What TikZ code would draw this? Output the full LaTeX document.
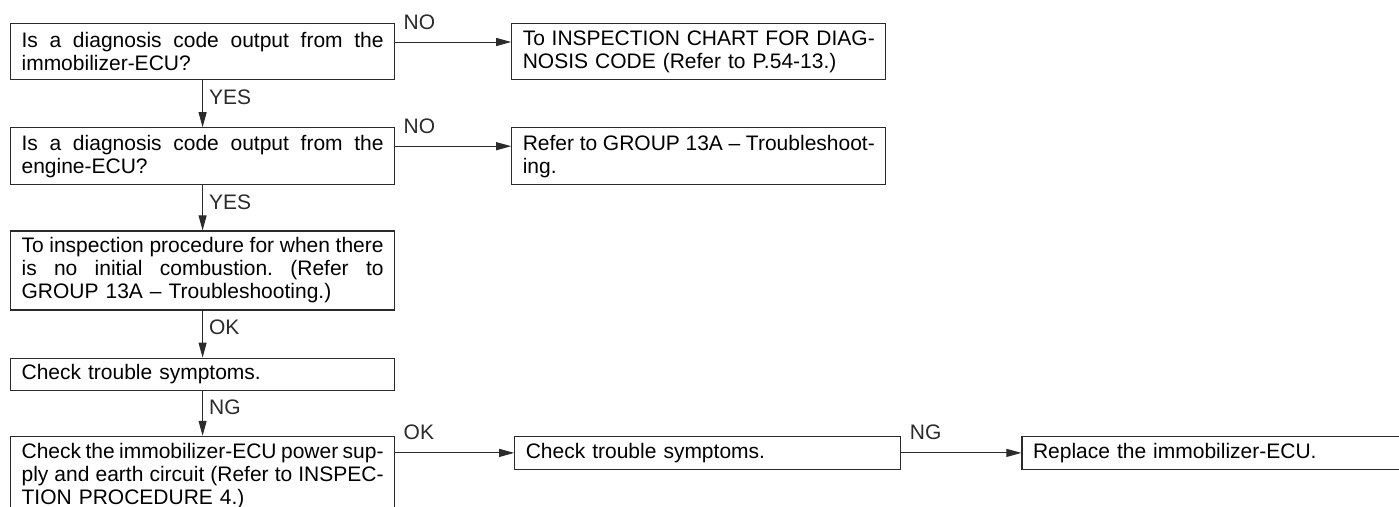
\documentclass[tikz,border=0pt]{standalone}
\usepackage{fontspec}
\setmainfont{Liberation Sans}
\usetikzlibrary{arrows.meta, positioning}
\definecolor{chartLine}{HTML}{2B2B2B}
\definecolor{chartArrow}{HTML}{2B2B2B}
\newcommand{\jline}[2][362pt]{\leavevmode{\frenchspacing
  \spaceskip=.278em plus 1fil minus .08em \hbox to #1{#2}}}
\tikzset{
  arrowC/.style={-{Triangle[length=15pt, width=8pt]}, chartArrow, line width=1pt},
  boxL/.style={rectangle, draw=chartLine, line width=1.2pt, align=left,
               text width=362pt, inner xsep=11pt, inner ysep=3pt},
  boxR/.style={boxL, text width=352pt},
  boxM/.style={boxL, text width=364pt},
  lblV/.style={pos=0, anchor=north west, inner sep=0pt, xshift=6pt, yshift=-9pt},
  lblH/.style={pos=0, anchor=base west, inner sep=0pt, xshift=8pt, yshift=13pt},
}

\begin{document}
\begin{tikzpicture}[font=\fontsize{21pt}{23pt}\selectfont]
    \useasboundingbox (0,0) rectangle (1399pt,-506pt);
    % left column
    \node[boxL, minimum height=56pt, anchor=north west] (a) at (10pt,-23pt)
      {\jline{Is a diagnosis code output from the}\\immobilizer-ECU?};
    \node[boxL, minimum height=57pt, below=47pt of a] (b)
      {\jline{Is a diagnosis code output from the}\\engine-ECU?};
    \node[boxL, minimum height=79pt, below=45pt of b] (c)
      {\jline{To inspection procedure for when there}\\
       \jline{is no initial combustion. (Refer to}\\
       GROUP 13A – Troubleshooting.)};
    \node[boxL, minimum height=32pt, below=47pt of c] (d)
      {Check trouble symptoms.};
    \node[boxL, minimum height=79pt, below=45pt of d] (e)
      {\jline{Check the immobilizer-ECU power sup-}\\
       \jline{ply and earth circuit (Refer to INSPEC-}\\
       TION PROCEDURE 4.)};
    % right side
    \node[boxR, minimum height=56pt, right=116pt of a] (r1)
      {\jline[352pt]{To INSPECTION CHART FOR DIAG-}\\NOSIS CODE (Refer to P.54-13.)};
    \node[boxR, minimum height=57pt, right=116pt of b] (r2)
      {\jline[352pt]{Refer to GROUP 13A – Troubleshoot-}\\ing.};
    \node[boxM, minimum height=33pt, anchor=north west] (m)
      at ([xshift=119pt]e.north east) {Check trouble symptoms.};
    \node[boxM, minimum height=33pt, right=120pt of m] (r3)
      {Replace the immobilizer-ECU.};
    % arrows
    \draw[arrowC] (a) -- node[lblV]{YES} (b);
    \draw[arrowC] (b) -- node[lblV]{YES} (c);
    \draw[arrowC] (c) -- node[lblV]{OK} (d);
    \draw[arrowC] (d) -- node[lblV]{NG} (e);
    \draw[arrowC] ([yshift=-19pt]a.north east) -- node[lblH]{NO} ([yshift=-19pt]r1.north west);
    \draw[arrowC] ([yshift=-19pt]b.north east) -- node[lblH]{NO} ([yshift=-19pt]r2.north west);
    \draw[arrowC] (e.east |- m) -- node[lblH]{OK} (m);
    \draw[arrowC] (m) -- node[lblH]{NG} (r3);
\end{tikzpicture}
\end{document}
